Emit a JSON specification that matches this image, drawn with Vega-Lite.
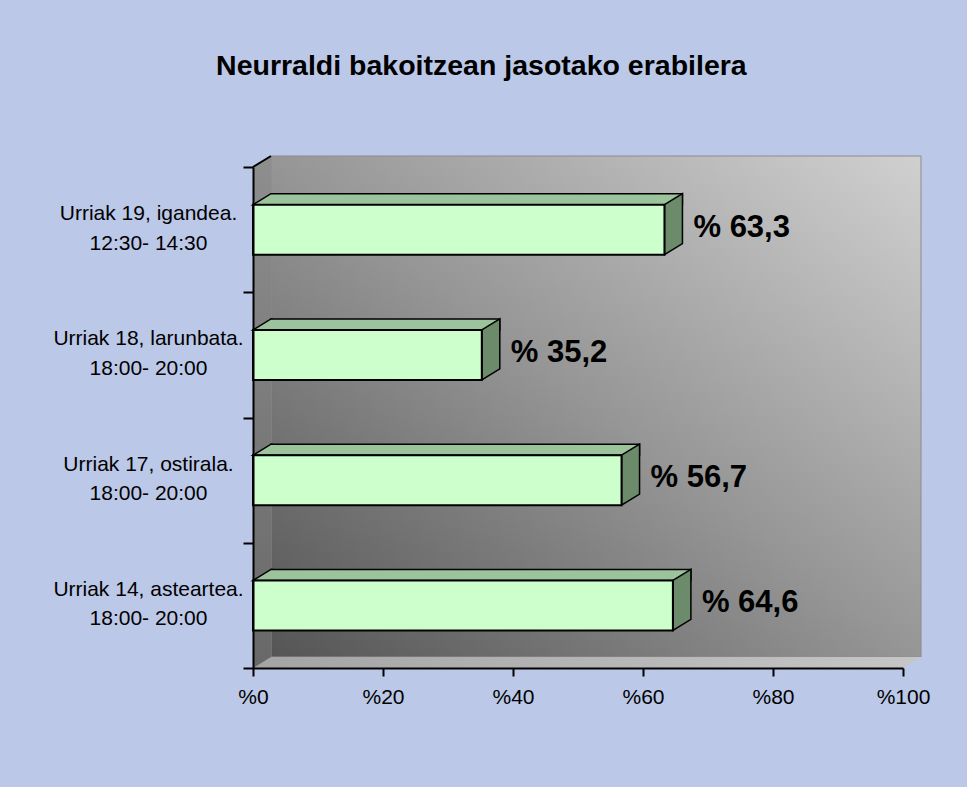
{
  "$schema": "https://vega.github.io/schema/vega-lite/v6.json",
  "width": 650,
  "height": 501,
  "autosize": {"type": "none"},
  "padding": {"left": 253, "top": 167, "right": 64, "bottom": 119},
  "background": "#BCC8E8",
  "config": {
    "view": {"stroke": null},
    "font": "Liberation Sans",
    "locale": {"number": {"decimal": ",", "thousands": ".", "grouping": [3], "currency": ["% ", ""]}}
  },
  "title": {
    "text": "Neurraldi bakoitzean jasotako erabilera",
    "font": "Liberation Sans",
    "fontSize": 28.5,
    "fontWeight": "bold",
    "color": "black",
    "anchor": "middle",
    "frame": "bounds",
    "dx": -10,
    "offset": 43,
    "baseline": "bottom"
  },
  "resolve": {"scale": {"y": "independent"}},
  "layer": [
    {
      "data": {"values": [{}]},
      "layer": [
        {
          "mark": {
            "type": "rect",
            "xOffset": 18, "x2Offset": 18, "yOffset": -11, "y2Offset": -11,
            "fill": {"gradient": "linear", "x1": 0, "y1": 1, "x2": 1, "y2": 0,
              "stops": [{"offset": 0, "color": "#555555"}, {"offset": 0.5, "color": "#969696"}, {"offset": 1, "color": "#d0d0d0"}]},
            "stroke": "#8c8c8c", "strokeWidth": 1
          },
          "encoding": {
            "x": {"datum": 0, "type": "quantitative"},
            "x2": {"datum": 100},
            "y": {"datum": 0, "type": "quantitative", "scale": {"domain": [0, 1]}, "axis": null},
            "y2": {"datum": 1}
          }
        },
        {
          "mark": {
            "type": "rect",
            "x2Offset": 18, "y2Offset": -11,
            "fill": {"gradient": "linear", "x1": 0, "y1": 0, "x2": 0, "y2": 1,
              "stops": [{"offset": 0, "color": "#8e8e8e"}, {"offset": 1, "color": "#686868"}]}
          },
          "encoding": {
            "x": {"datum": 0, "type": "quantitative"},
            "x2": {"datum": 0},
            "y": {"datum": 0, "type": "quantitative"},
            "y2": {"datum": 1}
          }
        },
        {
          "mark": {
            "type": "rect",
            "x2Offset": 18, "y2Offset": -11,
            "fill": {"gradient": "linear", "x1": 0, "y1": 0, "x2": 1, "y2": 0,
              "stops": [{"offset": 0, "color": "#a4a4a4"}, {"offset": 1, "color": "#c6c6c6"}]}
          },
          "encoding": {
            "x": {"datum": 0, "type": "quantitative"},
            "x2": {"datum": 100},
            "y": {"datum": 0, "type": "quantitative"},
            "y2": {"datum": 0}
          }
        },
        {
          "mark": {"type": "point", "shape": "M0,-11 L18,-11 L0,0 Z", "size": 4, "filled": true, "fill": "#696969", "strokeWidth": 0, "opacity": 1},
          "encoding": {
            "x": {"datum": 0, "type": "quantitative"},
            "y": {"datum": 0, "type": "quantitative"}
          }
        },
        {
          "mark": {"type": "point", "shape": "M-1,-12 L19,-12 L0,0 L-1,0 Z", "size": 4, "filled": true, "fill": "#BCC8E8", "strokeWidth": 0, "opacity": 1},
          "encoding": {
            "x": {"datum": 0, "type": "quantitative"},
            "y": {"datum": 1, "type": "quantitative"}
          }
        },
        {
          "mark": {"type": "point", "shape": "M0,0 L18,-11", "size": 4, "filled": false, "stroke": "black", "strokeWidth": 2, "opacity": 1},
          "encoding": {
            "x": {"datum": 0, "type": "quantitative"},
            "y": {"datum": 1, "type": "quantitative"}
          }
        },
        {
          "mark": {"type": "point", "shape": "M0,0 L18,-11 L20,-11 L20,2 L0,2 Z", "size": 4, "filled": true, "fill": "#BCC8E8", "strokeWidth": 0, "opacity": 1},
          "encoding": {
            "x": {"datum": 100, "type": "quantitative"},
            "y": {"datum": 0, "type": "quantitative"}
          }
        }
      ]
    },
    {
      "data": {
        "values": [
          {"cat": "Urriak 19, igandea.|12:30- 14:30", "value": 63.3},
          {"cat": "Urriak 18, larunbata.|18:00- 20:00", "value": 35.2},
          {"cat": "Urriak 17, ostirala.|18:00- 20:00", "value": 56.7},
          {"cat": "Urriak 14, asteartea.|18:00- 20:00", "value": 64.6}
        ]
      },
      "encoding": {
        "y": {
          "field": "cat", "type": "nominal", "sort": null,
          "scale": {"paddingInner": 0, "paddingOuter": 0},
          "axis": {
            "title": null, "orient": "left",
            "labelExpr": "split(datum.label, '|')",
            "labelFont": "Liberation Sans", "labelFontSize": 21, "labelColor": "black",
            "labelAlign": "center", "labelBaseline": "middle", "labelPadding": 95,
            "labelOffset": -16,
            "labelLimit": 300, "labelLineHeight": 29.5,
            "tickBand": "extent", "tickSize": 10, "tickColor": "black", "tickWidth": 2,
            "domainColor": "black", "domainWidth": 2, "zindex": 2
          }
        },
        "x": {
          "field": "value", "type": "quantitative",
          "scale": {"domain": [0, 100], "nice": false},
          "axis": {
            "title": null, "values": [0, 20, 40, 60, 80, 100],
            "labelExpr": "'%' + datum.value",
            "labelFont": "Liberation Sans", "labelFontSize": 21, "labelColor": "black",
            "labelPadding": 10, "labelFlush": false,
            "tickSize": 8, "tickColor": "black", "tickWidth": 2,
            "domainColor": "black", "domainWidth": 2, "grid": false, "zindex": 2
          }
        }
      },
      "layer": [
        {
          "mark": {"type": "bar", "height": 11, "yOffset": -30.5, "xOffset": 18, "x2Offset": 18, "fill": "#9CC49C", "stroke": "black", "strokeWidth": 1.5},
          "encoding": {"x2": {"datum": 0}}
        },
        {
          "mark": {"type": "point", "shape": "M20,-36 L18,-36 L0,-25 L20,-25", "size": 4, "filled": true, "fill": "#9CC49C", "stroke": "black", "strokeWidth": 1.5, "opacity": 1},
          "encoding": {"x": {"datum": 0, "type": "quantitative"}}
        },
        {
          "mark": {"type": "point", "shape": "M0,-25 L18,-36 L18,14 L0,25 Z", "size": 4, "filled": true, "fill": "#6B8B6B", "stroke": "black", "strokeWidth": 1.5, "opacity": 1}
        },
        {
          "mark": {"type": "bar", "height": 50, "fill": "#CCFFCC", "stroke": "black", "strokeWidth": 2},
          "encoding": {"x2": {"datum": 0}}
        },
        {
          "mark": {"type": "text", "align": "left", "baseline": "middle", "dx": 29, "dy": -2, "font": "Liberation Sans", "fontSize": 31, "fontWeight": "bold", "color": "black"},
          "encoding": {"text": {"field": "value", "type": "quantitative", "format": "$.1f"}}
        }
      ]
    }
  ]
}
